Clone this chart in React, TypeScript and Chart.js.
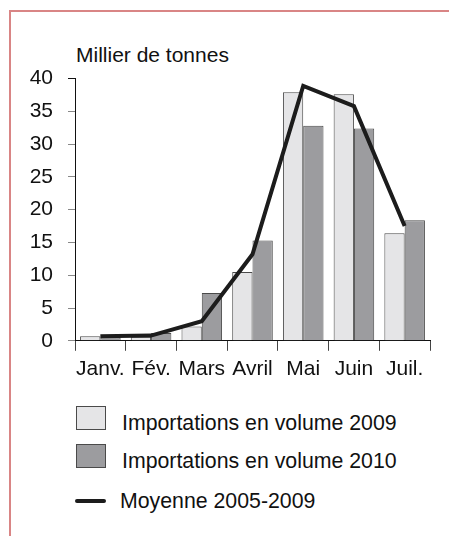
import React, { useEffect, useRef } from "react";
import { Chart, registerables } from "chart.js";

Chart.register(...registerables);

const categories = ["Janv.", "Fév.", "Mars", "Avril", "Mai", "Juin", "Juil."];
const imports2009 = [0.7, 0.6, 2.2, 10.5, 37.9, 37.6, 16.4];
const imports2010 = [0.5, 1.2, 7.3, 15.3, 32.8, 32.4, 18.4];
const average0509 = [0.7, 0.8, 3.0, 13.2, 38.9, 35.8, 17.5];
const yTicks = [0, 5, 10, 15, 20, 25, 30, 35, 40];

const labels2009 = "Importations en volume 2009";
const labels2010 = "Importations en volume 2010";
const labelAvg = "Moyenne 2005-2009";

const FONT = "'Liberation Sans', Arial, Helvetica, sans-serif";
const LIGHT = "#e5e5e7";
const DARK = "#9c9c9f";
const EDGE = "#4a4a4a";
const LINE = "#1c1c1c";
const FRAME = "#d98585";

export default function App() {
  const ref = useRef<HTMLCanvasElement | null>(null);

  useEffect(() => {
    if (!ref.current) return;
    const chart = new Chart(ref.current, {
      type: "bar",
      data: {
        labels: categories,
        datasets: [
          {
            type: "line",
            label: labelAvg,
            data: average0509,
            borderColor: LINE,
            borderWidth: 4,
            pointRadius: 0,
            tension: 0,
            order: 0,
          } as any,
          {
            label: labels2009,
            data: imports2009,
            backgroundColor: LIGHT,
            borderColor: EDGE,
            borderWidth: 1,
            order: 1,
          },
          {
            label: labels2010,
            data: imports2010,
            backgroundColor: DARK,
            borderColor: EDGE,
            borderWidth: 1,
            order: 1,
          },
        ],
      },
      options: {
        animation: false,
        responsive: false,
        maintainAspectRatio: false,
        layout: { padding: { top: 7, right: 19, left: 0, bottom: 0 } },
        datasets: { bar: { barPercentage: 1, categoryPercentage: 0.8 } },
        plugins: { legend: { display: false }, tooltip: { enabled: false } },
        scales: {
          x: {
            grid: {
              display: true,
              offset: true,
              drawOnChartArea: false,
              drawTicks: true,
              tickLength: 10,
              color: "#444",
            },
            border: { display: true, color: "#111", width: 1 },
            ticks: {
              color: "#111",
              font: { family: FONT, size: 21 },
              padding: 6,
              maxRotation: 0,
              autoSkip: false,
            },
          },
          y: {
            min: 0,
            max: 40,
            afterFit: (s: any) => {
              s.width = 75;
            },
            afterBuildTicks: (s: any) => {
              s.ticks = yTicks.map((v) => ({ value: v }));
            },
            grid: {
              display: true,
              drawOnChartArea: false,
              drawTicks: true,
              tickLength: 7,
              color: (ctx: any) => (ctx.tick && ctx.tick.value === 40 ? "#111" : "#888"),
            },
            border: { display: true, color: "#111", width: 1 },
            ticks: {
              color: "#111",
              font: { family: FONT, size: 21 },
              padding: 15,
              stepSize: 5,
            },
          },
        },
      },
    });
    return () => chart.destroy();
  }, []);

  const text: React.CSSProperties = {
    position: "absolute",
    fontFamily: FONT,
    fontSize: 21.3,
    lineHeight: "21px",
    color: "#111",
    whiteSpace: "nowrap",
  };

  return (
    <div
      style={{
        position: "fixed",
        left: 0,
        top: 0,
        width: 449,
        height: 536,
        background: "#fff",
        overflow: "hidden",
      }}
    >
      <div
        style={{ position: "absolute", left: 9, top: 10, width: 440, height: 2, background: FRAME }}
      />
      <div
        style={{ position: "absolute", left: 9, top: 10, width: 2, height: 526, background: FRAME }}
      />
      <div style={{ ...text, fontSize: 21, left: 76, top: 44 }}>Millier de tonnes</div>
      <canvas
        ref={ref}
        width={449}
        height={337}
        style={{ position: "absolute", left: 0, top: 51, width: 449, height: 337 }}
      />
      <div
        style={{
          position: "absolute",
          left: 76,
          top: 406,
          width: 28,
          height: 22,
          background: LIGHT,
          border: `1px solid ${EDGE}`,
        }}
      />
      <div style={{ ...text, left: 122, top: 413 }}>{labels2009}</div>
      <div
        style={{
          position: "absolute",
          left: 76,
          top: 444,
          width: 28,
          height: 22,
          background: DARK,
          border: `1px solid ${EDGE}`,
        }}
      />
      <div style={{ ...text, left: 122, top: 451 }}>{labels2010}</div>
      <div
        style={{
          position: "absolute",
          left: 75,
          top: 499,
          width: 31,
          height: 4,
          borderRadius: 2,
          background: LINE,
        }}
      />
      <div style={{ ...text, left: 120, top: 491 }}>{labelAvg}</div>
    </div>
  );
}
